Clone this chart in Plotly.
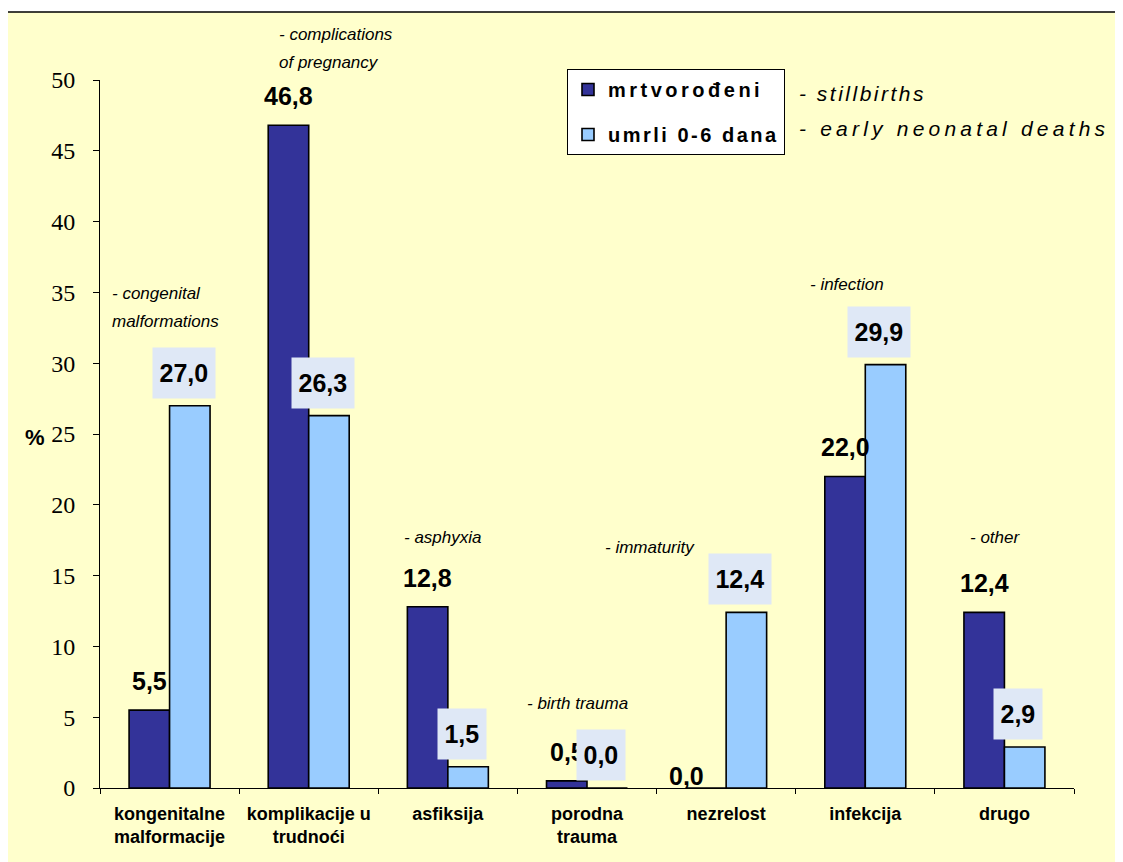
import plotly.graph_objects as go

# kategorije uzroka smrti
categories = ["kongenitalne<br>malformacije", "komplikacije u<br>trudnoći", "asfiksija",
              "porodna<br>trauma", "nezrelost", "infekcija", "drugo"]
# mrtvorođeni (stillbirths), %
stillbirths = [5.5, 46.8, 12.8, 0.5, 0.0, 22.0, 12.4]
# umrli 0-6 dana (early neonatal deaths), %
early_deaths = [27.0, 26.3, 1.5, 0.0, 12.4, 29.9, 2.9]
# engleski opisi iznad grupa
notes = ["- congenital<br>malformations", "- complications<br>of pregnancy", "- asphyxia",
         "- birth trauma", "- immaturity", "- infection", "- other"]
y_ticks = [0, 5, 10, 15, 20, 25, 30, 35, 40, 45, 50]

OFF = 8  # body margin stranice
W, H = 1123 - OFF, 862 - OFF
L, R, T, B = 100 - OFF, 49, 80 - OFF, 74
PW, PH = W - L - R, H - T - B


# pikseli sa slike -> paper koordinate
def px_x(x):
    return (x - OFF - L) / PW


def px_y(y):
    return (H - B - (y - OFF)) / PH


def fmt(v):
    return f"{v:.1f}".replace(".", ",")


def spaced(t, s):
    return f'<span style="letter-spacing:{s}px">{t}</span>'


FONT = "Arial, Liberation Sans, sans-serif"
DARK = "#333399"
LIGHT = "#99CCFF"

fig = go.Figure()
fig.add_bar(x=categories, y=stillbirths, name=spaced("mrtvorođeni", 3.5),
            marker=dict(color=DARK, line=dict(color="black", width=1.6)),
            legendgroup="a")
fig.add_bar(x=categories, y=early_deaths, name=spaced("umrli 0-6 dana", 2.5),
            marker=dict(color=LIGHT, line=dict(color="black", width=1.6)),
            legendgroup="b")

ann = []
for c, v in zip(categories, stillbirths):
    xs, ys = 0, 29
    if v == 0:  # excel je pomaknuo ovu oznaku
        xs, ys = -20, 12
    ann.append(dict(x=c, y=v, xref="x", yref="y", text=fmt(v), showarrow=False,
                    xshift=-20 + xs, yshift=ys, yanchor="middle",
                    font=dict(family=FONT, size=25, color="black", weight="bold")))
for c, v in zip(categories, early_deaths):
    t = fmt(v)
    w = sum(7 if ch == "," else 13.9 for ch in t) + 9
    ann.append(dict(x=c, y=v, xref="x", yref="y", text=t, showarrow=False,
                    xshift=14, yshift=7, yanchor="bottom", width=w, height=46,
                    bgcolor="#dfe8f6", borderpad=2,
                    font=dict(family=FONT, size=25, color="black", weight="bold")))

# opisi na engleskom (kurziv), redovi razmaknuti 28 px
note_pos = [(110, 293), (277, 35), (402, 537), (525, 703), (603, 547), (808, 284), (968, 537)]
for n, (x, y) in zip(notes, note_pos):
    for k, line in enumerate(n.split("<br>")):
        ann.append(dict(x=px_x(x), y=px_y(y + 28 * k), xref="paper", yref="paper", text=line,
                        showarrow=False, xanchor="left", yanchor="middle",
                        font=dict(family=FONT, size=17, color="black", style="italic")))

ann.append(dict(x=px_x(797), y=px_y(94), xref="paper", yref="paper",
                text=spaced("- stillbirths", 2.5),
                showarrow=False, xanchor="left", yanchor="middle",
                font=dict(family=FONT, size=21, color="black", style="italic")))
ann.append(dict(x=px_x(797), y=px_y(128), xref="paper", yref="paper",
                text=spaced("- early neonatal deaths", 4.2), showarrow=False,
                xanchor="left", yanchor="middle",
                font=dict(family=FONT, size=21, color="black", style="italic")))
ann.append(dict(x=px_x(35), y=px_y(437), xref="paper", yref="paper", text="%",
                showarrow=False, xanchor="center", yanchor="middle",
                font=dict(family=FONT, size=22, color="black", weight="bold")))

fig.update_layout(
    width=W, height=H,
    margin=dict(l=L, r=R, t=T, b=B),
    paper_bgcolor="white",
    plot_bgcolor="rgba(0,0,0,0)",
    barmode="group", bargap=0.418, bargroupgap=0,
    showlegend=True,
    legend=dict(x=px_x(567), y=px_y(69), xanchor="left", yanchor="top",
                bgcolor="white", bordercolor="black", borderwidth=1,
                tracegroupgap=16, traceorder="grouped",
                font=dict(family=FONT, size=20, color="black", weight="bold")),
    annotations=ann,
    shapes=[dict(type="rect", xref="paper", yref="paper", layer="below",
                 x0=px_x(7), x1=px_x(1121), y0=px_y(880), y1=px_y(12),
                 fillcolor="#FFFFCC", line=dict(color="black", width=1.5))],
)
fig.update_xaxes(showline=True, linecolor="black", linewidth=1, ticks="outside",
                 tickson="boundaries", ticklen=5, tickcolor="black", ticklabelstandoff=9,
                 tickfont=dict(family=FONT, size=18, color="black", weight="bold"))
fig.update_yaxes(range=[0, 50], tickvals=y_ticks, showgrid=False, zeroline=False,
                 showline=True, linecolor="black", linewidth=1, ticks="outside",
                 ticklen=6, tickcolor="black", ticklabelstandoff=13,
                 tickfont=dict(family="Times New Roman, Liberation Serif, serif", size=24,
                               color="black"))

fig.write_html("out.html")
